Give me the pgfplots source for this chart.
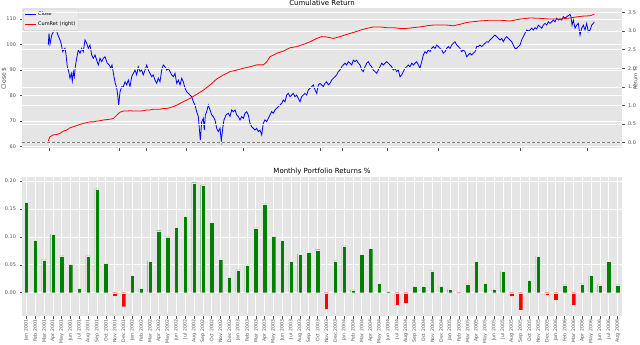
\documentclass[border=0pt]{standalone}
\usepackage{fontspec}
\setmainfont{DejaVu Sans}
\usepackage{pgfplots}
\pgfplotsset{compat=1.18}
\definecolor{ggbg}{HTML}{E5E5E5}
\definecolor{ggtick}{HTML}{555555}
\definecolor{gggreen}{HTML}{008000}
\definecolor{dashgray}{HTML}{808080}
\definecolor{legbg}{HTML}{EAEAEA}
\definecolor{legedge}{HTML}{CCCCCC}
\pgfplotsset{
 ggstyle/.style={
  scale only axis,
  axis background/.style={fill=ggbg},
  axis line style={draw=none},
  tick align=outside,
  major tick length=2.5pt,
  tick style={ggtick, line width=0.5pt},
  tick label style={font=\fontsize{5}{6}\selectfont, text=ggtick},
  /pgf/number format/assume math mode=true,
  grid style={white, line width=0.7pt},
  every axis title shift=0pt,
  title style={font=\fontsize{7}{8}\selectfont, at={(0.5,1)}, anchor=base, yshift=3pt},
  label style={font=\fontsize{6}{7}\selectfont, text=ggtick},
 }
}
\begin{document}
\begin{tikzpicture}
\useasboundingbox (0,0) rectangle (640pt,-345pt);
% ---------------- top: close price (left axis) ----------------
\begin{axis}[ggstyle, at={(22pt,-148.3pt)}, anchor=south west, width=600pt, height=140pt,
 xmin=-26, xmax=574, ymin=59.37, ymax=114.19,
 xtick={1,71,98,138,195,272,294,339,390,472,539}, xticklabels={},
 ytick={60,70,80,90,100,110}, tick pos=left, ymajorgrids,
 title={Cumulative Return},
 ylabel={Close \$}, ylabel style={at={(axis description cs:-0.03,0.5)}, anchor=center},
 legend style={at={(axis description cs:0.002,0.995)}, anchor=north west, font=\fontsize{5}{6}\selectfont,
   fill=legbg, draw=legedge, rounded corners=1pt, inner sep=1pt, row sep=0.6pt},
 legend cell align=left,
 legend image code/.code={\draw[#1] (0pt,0pt) -- (11pt,0pt);},
]
\addplot[blue, line width=0.8pt] coordinates {
(0.3,99.8) (1,104.4) (2,100.1) (3.7,103.7) (5.3,105.0) (8,106.6) (9.3,104.4) (11.3,102.4) (12.7,101.1) (14.7,97.2) (17,98.5) (18,96.2) (19.3,91.3) (20.7,89.4) (22,86.8) (23.3,88.7) (24.3,85.7) (25.3,89.4) (26.3,87.4) (27.3,91.3) (28.7,94.6) (30.3,97.9) (32,96.6) (33.7,98.5) (35.3,97.2) (37,101.8) (38.7,100.5) (40.3,98.5) (42,99.8) (43.7,95.9) (45.3,94.6) (47,95.9) (48.7,93.9) (50.3,92.0) (52,94.6) (53.7,93.3) (55.3,94.6) (57,95.2) (59.3,92.7) (61.3,92.0) (62.7,90.7) (64,92.0) (66,87.4) (67.3,84.8) (68.7,82.9) (69.7,80.2) (70.7,76.1) (72,81.5) (73.7,83.5) (75.3,83.5) (77,85.4) (78.7,84.2) (80.3,86.1) (82,83.5) (83.7,87.4) (85.3,88.7) (87,90.0) (88.7,88.1) (90.3,91.3) (92,89.4) (93.7,90.0) (95.3,88.1) (97,90.0) (98.7,92.0) (100.3,90.0) (102,88.7) (103.7,87.4) (105.3,88.1) (107,86.1) (108.7,84.8) (110.3,86.8) (112,85.4) (113.7,90.0) (115.3,92.0) (117,91.3) (118.7,90.0) (120.3,90.7) (122,89.4) (123.7,88.1) (125.3,87.4) (127,88.7)
(128.7,84.8) (130.3,86.1) (132,84.2) (133.7,86.8) (135.3,85.4) (137,82.9) (138.7,81.5) (140.3,80.9) (142,80.2) (143.7,79.6) (145.3,77.6) (147,76.3) (148.7,73.7) (150.3,71.8) (151.3,67.2) (152.3,62.6) (153.7,69.8) (155.3,71.1) (156.3,66.5) (157.3,72.4) (158.7,73.7) (160.3,76.3) (162,74.4) (163.7,72.4) (165.3,71.8) (167,70.5) (168.7,67.2) (170.3,65.9) (172,67.2) (173.3,62.2) (174.7,67.2) (176,70.5) (178,72.4) (180.3,73.1) (182,71.8) (183.7,74.4) (185.3,73.7) (187,74.4) (188.7,72.4) (190.3,71.8) (192,70.5) (193.7,71.8) (195.3,71.1) (197,73.1) (198.7,73.7) (200.3,72.4) (202,69.2) (203.7,67.8) (205.3,67.2) (207,66.5) (208.7,67.2) (210.3,65.9) (212,66.5) (213.7,64.6) (215.3,69.2) (217,70.5) (218.7,69.8) (220.3,71.1) (222,72.4) (223.7,73.7) (225.3,73.1) (227,74.4) (228.7,75.0) (230.3,75.7) (232,76.3) (233.7,77.0) (235.3,78.3) (237,77.6) (238.7,80.2) (240.3,80.9) (242,79.6) (243.7,80.2) (245.3,80.9) (247,79.6) (248.7,80.2) (250.3,78.9) (252,77.6) (253.7,79.6) (255.3,80.2) (257,80.9) (258.7,80.2) (260.3,82.2) (262,82.9) (263.7,83.5) (265.3,84.2) (267,82.2) (268.7,80.9) (270.3,84.2) (272,84.8)
(273.7,84.2) (275.3,83.5) (277,84.8) (278.7,85.4) (280.3,84.2) (282,84.8) (283.7,86.1) (285.3,86.8) (287,87.4) (288.7,88.1) (290.3,89.4) (292,90.0) (293.7,91.3) (295.3,92.0) (297,92.7) (298.7,92.0) (300.3,93.3) (302,92.7) (303.7,92.0) (305.3,93.9) (307,93.3) (308.7,93.9) (310.3,92.7) (312,92.0) (313.7,90.0) (315.3,89.4) (317,91.3) (318.7,92.7) (320.3,93.3) (322,92.0) (323.7,91.3) (325.3,90.0) (327,89.4) (328.7,88.7) (330.3,90.0) (332,91.3) (333.7,92.7) (335.3,92.0) (337,92.7) (338.7,93.3) (340.3,92.7) (342,92.0) (343.7,91.3) (345.3,90.0) (347,90.7) (348.7,89.4) (350.3,90.0) (352,87.4) (353.7,88.1) (355.3,89.4) (357,90.7) (358.7,91.3) (360.3,92.0) (362,91.3) (363.7,92.7) (365.3,92.0) (367,92.7) (368.7,93.3) (370.3,92.0) (372,90.7) (373.7,93.3) (375.3,95.9) (377,97.2) (378.7,96.6) (380.3,97.9) (382,97.2) (383.7,98.5) (385.3,99.2) (387,98.5) (388.7,99.8) (390.3,99.2) (392,98.5) (393.7,97.9) (395.3,96.6) (397,97.2) (398.7,98.5) (400.3,99.2) (402,98.5) (403.7,99.8) (405.3,100.5) (407,101.1) (408.7,99.8) (410.3,99.2) (412,98.5) (413.7,97.2) (415.3,97.9) (417,97.2) (418.7,95.2) (420.3,95.9) (422,96.6) (423.7,95.9) (425.3,96.6)
(427,97.2) (428.7,99.2) (430.3,99.2) (432,99.8) (433.7,99.2) (435.3,99.8) (437,100.5) (438.7,101.1) (440.3,100.9) (442,101.8) (443.7,102.4) (445.3,103.1) (447,103.7) (448.7,103.1) (450.3,102.4) (452,101.8) (453.7,102.4) (455.3,101.1) (457,102.4) (458.7,103.1) (460.3,102.4) (462,101.8) (463.7,101.1) (465.3,99.8) (467,98.5) (468.7,98.5) (470.3,99.2) (472,99.8) (473.7,101.8) (475.3,103.1) (477,104.4) (478.7,105.7) (480.3,105.3) (482,105.7) (483.7,106.4) (485.3,105.7) (487,106.6) (488.7,106.1) (490.3,107.6) (492,107.0) (493.7,106.4) (495.3,107.6) (497,108.3) (498.7,107.6) (500.3,108.9) (502,108.3) (503.7,108.9) (505.3,109.6) (507,108.9) (508.7,110.3) (510.3,109.6) (512,110.0) (513.7,109.6) (515.3,110.9) (517,110.3) (518.7,110.9) (520.3,111.3) (522,111.8) (523,110.9) (524,107.6) (525.3,109.6) (527,106.4) (528.7,107.6) (530.3,108.3) (532,103.7) (533.7,106.4) (535.3,107.6) (537,105.7) (538.7,108.3) (540.3,105.0) (542,105.7) (543.7,107.6) (545.3,108.3) (546.3,108.9)
};
\addlegendentry{Close}
\addlegendimage{red, line width=0.8pt}
\addlegendentry{CumRet (right)}
\end{axis}
% ---------------- top: cumulative return (right axis) ----------------
\begin{axis}[ggstyle, at={(22pt,-148.3pt)}, anchor=south west, width=600pt, height=140pt,
 axis background/.style={},
 xmin=-26, xmax=574, ymin=-0.15, ymax=3.61,
 axis x line=none, axis y line*=right,
 ytick={0,0.5,1,1.5,2,2.5,3,3.5},
 yticklabel style={/pgf/number format/.cd, fixed, fixed zerofill, precision=1},
 ymajorgrids,
 ylabel={Return \%}, ylabel style={at={(axis description cs:1.0225,0.5)}, anchor=center, font=\fontsize{5}{6}\selectfont},
]
\addplot[dashgray, dash pattern=on 3pt off 2pt, line width=0.8pt] coordinates {(-26,0) (574,0)};
\addplot[red, line width=0.8pt] coordinates {
(0.3,0.05) (2,0.16) (5.3,0.21) (8.7,0.22) (12,0.25) (15.3,0.31) (18.7,0.34) (22,0.40) (25.3,0.43) (28.7,0.46) (32,0.49) (35.3,0.52) (38.7,0.54) (42,0.56) (45.3,0.56) (48.7,0.58) (52,0.59) (55.3,0.61) (58.7,0.62) (62,0.63) (65.3,0.65) (68.7,0.74) (72,0.82) (75.3,0.85) (78.7,0.85) (82,0.86) (85.3,0.85) (88.7,0.85) (92,0.85) (95.3,0.86) (98.7,0.88) (102,0.88) (105.3,0.90) (108.7,0.90) (112,0.90) (115.3,0.92) (118.7,0.92) (122,0.94) (125.3,0.97) (128.7,1.01) (135.3,1.10) (142,1.19) (148.7,1.30) (155.3,1.41) (162,1.55) (168.7,1.71) (175.3,1.82) (182,1.91) (188.7,1.95) (195.3,2.00) (202,2.04) (208.7,2.09) (215.3,2.09) (218.7,2.17) (222,2.31) (228.7,2.40) (235.3,2.46) (242,2.55) (248.7,2.58) (255.3,2.64) (262,2.71) (268.7,2.80) (273.7,2.85) (278.7,2.84) (285.3,2.80) (292,2.85) (298.7,2.91) (305.3,2.96) (312,3.02) (318.7,3.07) (325.3,3.11) (332,3.11) (338.7,3.09) (345.3,3.09) (352,3.07) (358.7,3.07) (365.3,3.09) (372,3.11) (378.7,3.14) (385.3,3.16) (392,3.16) (398.7,3.16) (405.3,3.14) (412,3.18) (418.7,3.23) (425.3,3.25) (432,3.27) (442,3.29) (452,3.29) (462,3.27) (472,3.32) (482,3.35) (492,3.34) (502,3.32) (512,3.32) (522,3.35) (528.7,3.38) (535.3,3.40) (542,3.41) (546.3,3.45)
};
\end{axis}
% ---------------- bottom: monthly returns ----------------
\begin{axis}[ggstyle, at={(22pt,-316pt)}, anchor=south west, width=600pt, height=139.3pt,
 xmin=-0.5, xmax=67.5, ymin=-0.0417, ymax=0.2077,
 xtick={0,...,67},
 xticklabels={Jan 2001,Feb 2001,Mar 2001,Apr 2001,May 2001,Jun 2001,Jul 2001,Aug 2001,Sep 2001,Oct 2001,Nov 2001,Dec 2001,
 Jan 2002,Feb 2002,Mar 2002,Apr 2002,May 2002,Jun 2002,Jul 2002,Aug 2002,Sep 2002,Oct 2002,Nov 2002,Dec 2002,
 Jan 2003,Feb 2003,Mar 2003,Apr 2003,May 2003,Jun 2003,Jul 2003,Aug 2003,Sep 2003,Oct 2003,Nov 2003,Dec 2003,
 Jan 2004,Feb 2004,Mar 2004,Apr 2004,May 2004,Jun 2004,Jul 2004,Aug 2004,Sep 2004,Oct 2004,Nov 2004,Dec 2004,
 Jan 2005,Feb 2005,Mar 2005,Apr 2005,May 2005,Jun 2005,Jul 2005,Aug 2005,Sep 2005,Oct 2005,Nov 2005,Dec 2005,
 Jan 2006,Feb 2006,Mar 2006,Apr 2006,May 2006,Jun 2006,Jul 2006,Aug 2006},
 xticklabel style={rotate=90, anchor=east, inner sep=1.2pt, font=\fontsize{4.7}{5.5}\selectfont},
 ytick={0,0.05,0.1,0.15,0.2},
 yticklabel style={/pgf/number format/.cd, fixed, fixed zerofill, precision=2},
 tick pos=left, xmajorgrids, ymajorgrids,
 title={Monthly Portfolio Returns \%},
]
\addplot[ybar, bar width=0.5, bar shift=0pt, fill=gggreen, draw=white!90!black, line width=0.3pt] coordinates {
(0,0.162) (1,0.094) (2,0.059) (3,0.105) (4,0.066) (5,0.051) (6,0.008) (7,0.066) (8,0.186) (9,0.053) (12,0.031) (13,0.008) (14,0.056) (15,0.111) (16,0.100) (17,0.117) (18,0.137) (19,0.197) (20,0.193) (21,0.126) (22,0.060) (23,0.028) (24,0.041) (25,0.050) (26,0.116) (27,0.159) (28,0.101) (29,0.094) (30,0.056) (31,0.069) (32,0.072) (33,0.077) (35,0.057) (36,0.084) (37,0.005) (38,0.069) (39,0.079) (40,0.017) (41,0.003) (44,0.011) (45,0.011) (46,0.039) (47,0.012) (48,0.006) (50,0.016) (51,0.056) (52,0.017) (53,0.006) (54,0.038) (57,0.022) (58,0.065) (61,0.014) (63,0.016) (64,0.031) (65,0.014) (66,0.056) (67,0.014)
};
\addplot[ybar, bar width=0.5, bar shift=0pt, fill=red, draw=white!90!black, line width=0.3pt] coordinates {
(10,-0.007) (11,-0.025) (34,-0.029) (42,-0.023) (43,-0.019) (49,-0.002) (55,-0.007) (56,-0.032) (59,-0.005) (60,-0.014) (62,-0.022)
};
\end{axis}
\end{tikzpicture}
\end{document}
